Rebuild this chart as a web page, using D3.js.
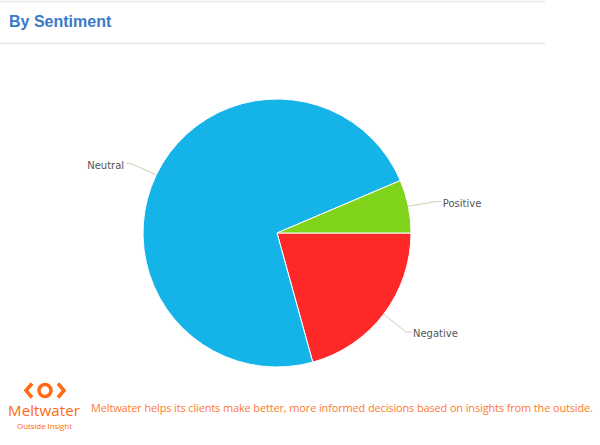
<!DOCTYPE html>
<html>
<head>
<meta charset="utf-8">
<script src="https://cdn.jsdelivr.net/npm/d3@7"></script>
<style>
  body { margin: 0; background: #fff; }
  svg { display: block; }
</style>
</head>
<body>
<div id="chart"></div>
<script>
// slice data, in drawing order (clockwise from 3 o'clock)
var categories = ['Negative', 'Neutral', 'Positive'];
var shares = [20.7, 72.9, 6.4];
var colors = ['#ff2828', '#14b4e9', '#80d41c'];

var svgWidth = 600;
var svgHeight = 445;

var svg = d3.select('#chart')
    .append('svg')
    .attr('width', svgWidth)
    .attr('height', svgHeight);

// header rules + title
svg.append('line')
    .attr('x1', 0).attr('x2', 545).attr('y1', 1.5).attr('y2', 1.5)
    .attr('stroke', '#e8e8e8').attr('stroke-width', 1.5);
svg.append('line')
    .attr('x1', 0).attr('x2', 545).attr('y1', 43.5).attr('y2', 43.5)
    .attr('stroke', '#e8e8e8').attr('stroke-width', 1.5);

svg.append('text')
    .attr('x', 9)
    .attr('y', 27)
    .attr('font-family', 'Arial, "Liberation Sans", sans-serif')
    .attr('font-weight', 'bold')
    .attr('font-size', '16px')
    .attr('fill', '#3b78c8')
    .text('By Sentiment');

// pie
var cx = 277, cy = 233, radius = 134;
var data = categories.map(function(c, i) {
    return { name: c, value: shares[i], color: colors[i] };
});

var pie = d3.pie()
    .sort(null)
    .value(d => d.value)
    .startAngle(Math.PI / 2)
    .endAngle(Math.PI / 2 + 2 * Math.PI);

var arc = d3.arc().innerRadius(0).outerRadius(radius);

var pieGroup = svg.append('g')
    .attr('transform', `translate(${cx}, ${cy})`);

var arcs = pie(data);

pieGroup.selectAll('path.slice')
    .data(arcs)
    .enter()
    .append('path')
    .attr('class', 'slice')
    .attr('d', arc)
    .attr('fill', d => d.data.color)
    .attr('stroke', '#ffffff')
    .attr('stroke-width', 1)
    .attr('stroke-linejoin', 'round');

// data labels with connectors
var elbowR = radius + 28;
arcs.forEach(function(d) {
    var a = (d.startAngle + d.endAngle) / 2;
    var sx = Math.sin(a), sy = -Math.cos(a);
    var p0 = [sx * radius, sy * radius];
    var p1 = [sx * elbowR, sy * elbowR + 1];
    var right = sx > 0;
    var p2 = [p1[0] + (right ? 6 : -5), p1[1]];

    pieGroup.append('path')
        .attr('d', d3.line()([p0, p1, p2]))
        .attr('fill', 'none')
        .attr('stroke', '#cfd0b8')
        .attr('stroke-width', 1);

    pieGroup.append('text')
        .attr('x', p2[0] + (right ? 1 : -2))
        .attr('y', p2[1] + 5)
        .attr('text-anchor', right ? 'start' : 'end')
        .attr('font-family', '"DejaVu Sans", Verdana, sans-serif')
        .attr('font-size', '10px')
        .attr('fill', '#555555')
        .text(d.data.name);
});

// footer: logo + tagline
var orange = '#ff6a13';
var logo = svg.append('g').attr('transform', 'translate(45, 390.5)');
logo.append('circle')
    .attr('r', 6)
    .attr('fill', 'none')
    .attr('stroke', orange)
    .attr('stroke-width', 3.5);
logo.append('path')
    .attr('d', 'M-13,-7 L-19,0 L-13,7')
    .attr('fill', 'none')
    .attr('stroke', orange)
    .attr('stroke-width', 3.5);
logo.append('path')
    .attr('d', 'M13,-7 L19,0 L13,7')
    .attr('fill', 'none')
    .attr('stroke', orange)
    .attr('stroke-width', 3.5);

svg.append('text')
    .attr('x', 8)
    .attr('y', 416)
    .attr('font-family', '"Open Sans", sans-serif')
    .attr('font-size', '15px')
    .attr('fill', orange)
    .attr('textLength', 72)
    .text('Meltwater');

svg.append('text')
    .attr('x', 17)
    .attr('y', 429)
    .attr('font-family', '"Open Sans", sans-serif')
    .attr('font-size', '8px')
    .attr('fill', orange)
    .attr('textLength', 55)
    .text('Outside Insight');

svg.append('text')
    .attr('x', 91)
    .attr('y', 412)
    .attr('font-family', '"Open Sans", sans-serif')
    .attr('font-size', '11px')
    .attr('fill', '#ff7a30')
    .attr('textLength', 502)
    .text('Meltwater helps its clients make better, more informed decisions based on insights from the outside.');
</script>
</body>
</html>
